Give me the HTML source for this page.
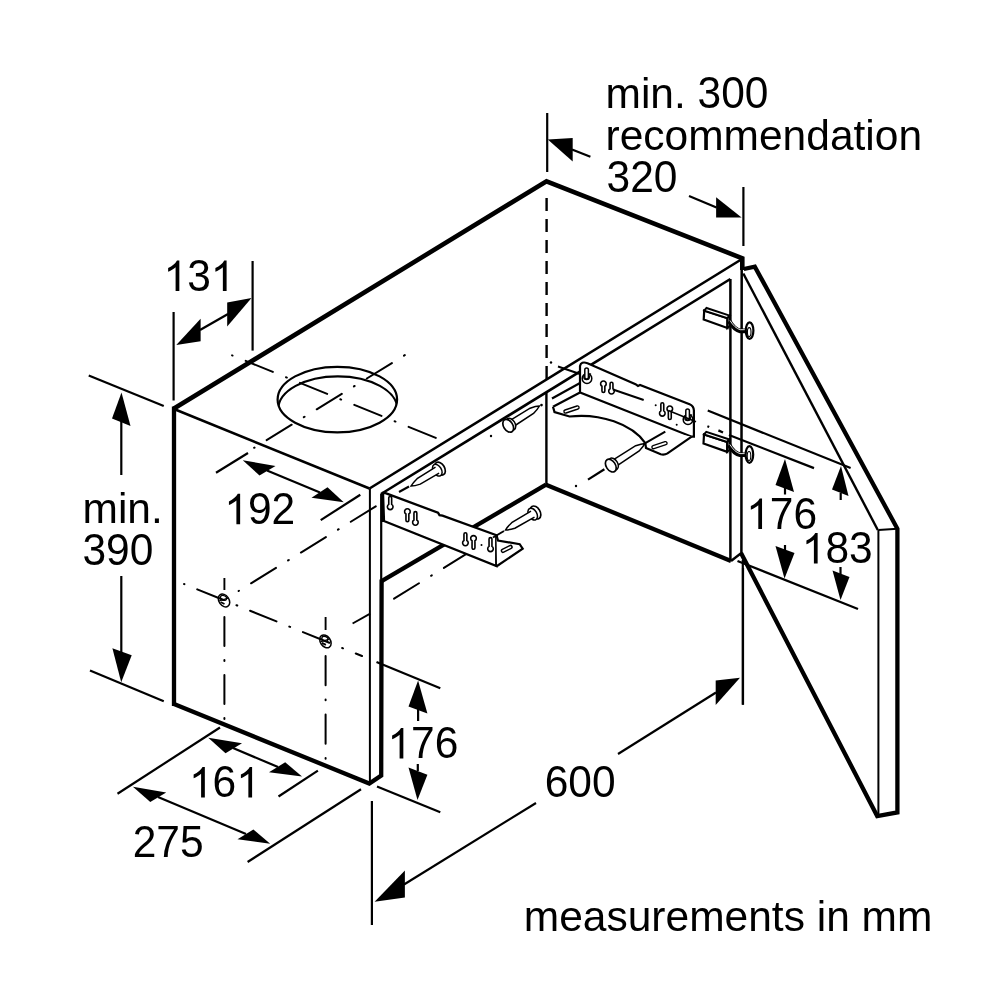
<!DOCTYPE html>
<html><head><meta charset="utf-8"><style>html,body{margin:0;padding:0;background:#fff}svg{display:block;will-change:transform}</style></head>
<body><svg width="1000" height="1000" viewBox="0 0 1000 1000" font-family="Liberation Sans, sans-serif" stroke="#000" stroke-linecap="butt">
<text stroke="none" fill="#000" x="605.5" y="108" font-size="42.5">min.</text>
<text stroke="none" fill="#000" x="697.60" y="108" font-size="42.5" transform="translate(0 108) scale(1 1.055) translate(0 -108)">3</text>
<text stroke="none" fill="#000" x="721.23" y="108" font-size="42.5" transform="translate(0 108) scale(1 1.055) translate(0 -108)">0</text>
<text stroke="none" fill="#000" x="744.86" y="108" font-size="42.5" transform="translate(0 108) scale(1 1.055) translate(0 -108)">0</text>
<text stroke="none" fill="#000" x="605.5" y="150" font-size="42.5">recommendation</text>
<text stroke="none" fill="#000" x="606.50" y="192" font-size="42.5" transform="translate(0 192) scale(1 1.055) translate(0 -192)">3</text>
<text stroke="none" fill="#000" x="630.13" y="192" font-size="42.5" transform="translate(0 192) scale(1 1.055) translate(0 -192)">2</text>
<text stroke="none" fill="#000" x="653.76" y="192" font-size="42.5" transform="translate(0 192) scale(1 1.055) translate(0 -192)">0</text>
<path d="M179.34,291.00 L175.60,291.00 L175.60,267.18 Q174.25,268.46 172.06,269.75 Q169.88,271.04 168.13,271.70 L168.13,268.09 Q171.28,266.60 173.65,264.48 Q176.01,262.36 177.00,260.39 L179.34,260.39Z" fill="#000" stroke="none"/>
<text stroke="none" fill="#000" x="187.13" y="291" font-size="42.5" transform="translate(0 291) scale(1 1.055) translate(0 -291)">3</text>
<path d="M226.60,291.00 L222.86,291.00 L222.86,267.18 Q221.51,268.46 219.32,269.75 Q217.13,271.04 215.39,271.70 L215.39,268.09 Q218.54,266.60 220.91,264.48 Q223.27,262.36 224.26,260.39 L226.60,260.39Z" fill="#000" stroke="none"/>
<path d="M240.14,524.30 L236.40,524.30 L236.40,500.48 Q235.05,501.76 232.86,503.05 Q230.68,504.34 228.93,505.00 L228.93,501.39 Q232.08,499.90 234.45,497.78 Q236.81,495.66 237.80,493.69 L240.14,493.69Z" fill="#000" stroke="none"/>
<text stroke="none" fill="#000" x="247.93" y="524.3" font-size="42.5" transform="translate(0 524.3) scale(1 1.055) translate(0 -524.3)">9</text>
<text stroke="none" fill="#000" x="271.56" y="524.3" font-size="42.5" transform="translate(0 524.3) scale(1 1.055) translate(0 -524.3)">2</text>
<text stroke="none" fill="#000" x="82.5" y="523" font-size="42.5">min.</text>
<text stroke="none" fill="#000" x="82.50" y="565.3" font-size="42.5" transform="translate(0 565.3) scale(1 1.055) translate(0 -565.3)">3</text>
<text stroke="none" fill="#000" x="106.13" y="565.3" font-size="42.5" transform="translate(0 565.3) scale(1 1.055) translate(0 -565.3)">9</text>
<text stroke="none" fill="#000" x="129.76" y="565.3" font-size="42.5" transform="translate(0 565.3) scale(1 1.055) translate(0 -565.3)">0</text>
<path d="M762.04,529.00 L758.30,529.00 L758.30,505.18 Q756.95,506.46 754.76,507.75 Q752.58,509.04 750.83,509.70 L750.83,506.09 Q753.98,504.60 756.35,502.48 Q758.71,500.36 759.70,498.39 L762.04,498.39Z" fill="#000" stroke="none"/>
<text stroke="none" fill="#000" x="769.83" y="529" font-size="42.5" transform="translate(0 529) scale(1 1.055) translate(0 -529)">7</text>
<text stroke="none" fill="#000" x="793.46" y="529" font-size="42.5" transform="translate(0 529) scale(1 1.055) translate(0 -529)">6</text>
<path d="M817.64,563.50 L813.90,563.50 L813.90,539.68 Q812.55,540.96 810.36,542.25 Q808.17,543.54 806.43,544.20 L806.43,540.59 Q809.58,539.10 811.95,536.98 Q814.31,534.86 815.30,532.89 L817.64,532.89Z" fill="#000" stroke="none"/>
<text stroke="none" fill="#000" x="825.43" y="563.5" font-size="42.5" transform="translate(0 563.5) scale(1 1.055) translate(0 -563.5)">8</text>
<text stroke="none" fill="#000" x="849.06" y="563.5" font-size="42.5" transform="translate(0 563.5) scale(1 1.055) translate(0 -563.5)">3</text>
<path d="M204.84,797.50 L201.10,797.50 L201.10,773.68 Q199.75,774.96 197.56,776.25 Q195.38,777.54 193.63,778.20 L193.63,774.59 Q196.78,773.10 199.15,770.98 Q201.51,768.86 202.50,766.89 L204.84,766.89Z" fill="#000" stroke="none"/>
<text stroke="none" fill="#000" x="212.63" y="797.5" font-size="42.5" transform="translate(0 797.5) scale(1 1.055) translate(0 -797.5)">6</text>
<path d="M252.10,797.50 L248.36,797.50 L248.36,773.68 Q247.01,774.96 244.82,776.25 Q242.63,777.54 240.89,778.20 L240.89,774.59 Q244.04,773.10 246.41,770.98 Q248.77,768.86 249.76,766.89 L252.10,766.89Z" fill="#000" stroke="none"/>
<text stroke="none" fill="#000" x="132.70" y="857.5" font-size="42.5" transform="translate(0 857.5) scale(1 1.055) translate(0 -857.5)">2</text>
<text stroke="none" fill="#000" x="156.33" y="857.5" font-size="42.5" transform="translate(0 857.5) scale(1 1.055) translate(0 -857.5)">7</text>
<text stroke="none" fill="#000" x="179.96" y="857.5" font-size="42.5" transform="translate(0 857.5) scale(1 1.055) translate(0 -857.5)">5</text>
<path d="M403.34,758.50 L399.60,758.50 L399.60,734.68 Q398.25,735.96 396.06,737.25 Q393.88,738.54 392.13,739.20 L392.13,735.59 Q395.28,734.10 397.65,731.98 Q400.01,729.86 401.00,727.89 L403.34,727.89Z" fill="#000" stroke="none"/>
<text stroke="none" fill="#000" x="411.13" y="758.5" font-size="42.5" transform="translate(0 758.5) scale(1 1.055) translate(0 -758.5)">7</text>
<text stroke="none" fill="#000" x="434.76" y="758.5" font-size="42.5" transform="translate(0 758.5) scale(1 1.055) translate(0 -758.5)">6</text>
<text stroke="none" fill="#000" x="544.70" y="796.8" font-size="42.5" transform="translate(0 796.8) scale(1 1.055) translate(0 -796.8)">6</text>
<text stroke="none" fill="#000" x="568.33" y="796.8" font-size="42.5" transform="translate(0 796.8) scale(1 1.055) translate(0 -796.8)">0</text>
<text stroke="none" fill="#000" x="591.96" y="796.8" font-size="42.5" transform="translate(0 796.8) scale(1 1.055) translate(0 -796.8)">0</text>
<text stroke="none" fill="#000" x="523.8" y="931" font-size="42.5">measurements in mm</text>
<line x1="547.2" y1="113" x2="547.2" y2="172" stroke-width="2.2" />
<line x1="743.4" y1="187" x2="743.4" y2="246" stroke-width="2.2" />
<path d="M547.8,139.5 L572.7,138 L572.7,161.4Z" fill="#000" stroke="none"/>
<path d="M741.6,217.6 L716.1,197.3 L716.1,217.6Z" fill="#000" stroke="none"/>
<line x1="572" y1="149.4" x2="590.4" y2="156.7" stroke-width="2.2" />
<line x1="689" y1="196" x2="716.5" y2="207.4" stroke-width="2.2" />
<line x1="173.6" y1="312" x2="173.6" y2="400.5" stroke-width="2.2" />
<line x1="252.6" y1="261" x2="252.6" y2="350.6" stroke-width="2.2" />
<path d="M176.3,345.1 L200.6,318.8 L200.6,341.3Z" fill="#000" stroke="none"/>
<path d="M251.5,298.1 L227.2,302.6 L227.2,326.5Z" fill="#000" stroke="none"/>
<line x1="200" y1="330" x2="228" y2="314" stroke-width="2.2" />
<line x1="88.75" y1="375.5" x2="163.75" y2="406" stroke-width="2.2" />
<line x1="90" y1="670.6" x2="163.75" y2="701.25" stroke-width="2.2" />
<path d="M121.5,392.5 L112,418.5 L130.5,426Z" fill="#000" stroke="none"/>
<path d="M121.2,682.2 L112.4,648.3 L131.7,655.3Z" fill="#000" stroke="none"/>
<line x1="121.3" y1="420" x2="121.3" y2="475" stroke-width="2.2" />
<line x1="121.3" y1="576" x2="121.3" y2="653" stroke-width="2.2" />
<line x1="216" y1="472.8" x2="248" y2="453" stroke-width="2.2" />
<line x1="320.7" y1="520.1" x2="360.3" y2="494.8" stroke-width="2.2" />
<path d="M242.75,460.25 L259.5,475.5 L275.5,466Z" fill="#000" stroke="none"/>
<path d="M343.75,502.25 L311.5,497.75 L327.5,487.25Z" fill="#000" stroke="none"/>
<line x1="267" y1="470.5" x2="320" y2="492.5" stroke-width="2.2" />
<line x1="707.75" y1="410.6" x2="850.6" y2="468.1" stroke-width="2.2" />
<line x1="729" y1="435" x2="814" y2="468.1" stroke-width="2.2" />
<line x1="737.5" y1="561" x2="858" y2="609" stroke-width="2.2" />
<path d="M785,459 L775.5,485 L794,492Z" fill="#000" stroke="none"/>
<path d="M784.5,578.5 L775.5,546 L794.5,553Z" fill="#000" stroke="none"/>
<line x1="785" y1="488" x2="785" y2="494.5" stroke-width="2.2" />
<line x1="785" y1="545" x2="785" y2="550" stroke-width="2.2" />
<path d="M841,466 L832,489.5 L848.5,496Z" fill="#000" stroke="none"/>
<path d="M840.5,600 L832.5,570.5 L849.5,577Z" fill="#000" stroke="none"/>
<line x1="840.7" y1="493" x2="840.7" y2="500" stroke-width="2.2" />
<line x1="840.5" y1="567" x2="840.5" y2="574" stroke-width="2.2" />
<line x1="117.5" y1="793.75" x2="220" y2="727.5" stroke-width="2.2" />
<line x1="278.5" y1="796.5" x2="317.9" y2="770.7" stroke-width="2.2" />
<path d="M208.25,737.75 L225.5,753.25 L242,743.25Z" fill="#000" stroke="none"/>
<path d="M302,776.4 L269,772.2 L285.2,762.3Z" fill="#000" stroke="none"/>
<line x1="233" y1="748" x2="278" y2="767" stroke-width="2.2" />
<line x1="247.6" y1="862" x2="361" y2="789.3" stroke-width="2.2" />
<path d="M132.9,786.7 L150.3,802 L166.2,792.4Z" fill="#000" stroke="none"/>
<path d="M270.2,843.8 L237.5,839.3 L253.4,829.4Z" fill="#000" stroke="none"/>
<line x1="158" y1="797" x2="246" y2="834" stroke-width="2.2" />
<line x1="376.5" y1="661.9" x2="440.3" y2="688.3" stroke-width="2.2" />
<line x1="377" y1="786.4" x2="440.3" y2="812.2" stroke-width="2.2" />
<path d="M418.1,680.4 L408.5,706.5 L427.4,713.4Z" fill="#000" stroke="none"/>
<path d="M417.5,799.9 L408.5,767.5 L427.4,774.7Z" fill="#000" stroke="none"/>
<line x1="418.1" y1="708" x2="418.1" y2="721" stroke-width="2.2" />
<line x1="417.8" y1="764" x2="417.8" y2="771" stroke-width="2.2" />
<line x1="371.9" y1="801" x2="371.9" y2="925" stroke-width="2.2" />
<line x1="742.8" y1="560" x2="742.8" y2="704.7" stroke-width="2.2" />
<path d="M374.6,901.7 L404.9,870.5 L404.9,897.5Z" fill="#000" stroke="none"/>
<path d="M740,677.7 L715.7,680.4 L715.7,705Z" fill="#000" stroke="none"/>
<line x1="404" y1="884.5" x2="536" y2="803" stroke-width="2.2" />
<line x1="618" y1="754" x2="716" y2="692.5" stroke-width="2.2" />
<path d="M174,408.5 L546.5,181.3 L742.3,258.3 L742.3,270" stroke-width="4.6" fill="none" />
<line x1="174" y1="406.5" x2="174" y2="706" stroke-width="4.3" />
<path d="M174,704 L369.3,783.5 L381.2,775.6 L381.6,579.5" stroke-width="4.3" fill="none" />
<line x1="174" y1="409" x2="369.5" y2="488.5" stroke-width="2.5" />
<line x1="369.5" y1="488.5" x2="742" y2="259" stroke-width="2.6" />
<line x1="369.9" y1="488.5" x2="369.9" y2="783.5" stroke-width="2.0" />
<line x1="381" y1="494" x2="730.4" y2="279" stroke-width="2.6" />
<line x1="381.2" y1="494" x2="381.2" y2="581" stroke-width="2.2" />
<line x1="382" y1="580.8" x2="546" y2="484.7" stroke-width="4.3" />
<line x1="546.4" y1="392" x2="546.4" y2="486" stroke-width="2.4" />
<line x1="546" y1="484.7" x2="731" y2="561" stroke-width="4.3" />
<path d="M731,561 L741.4,553 L741.7,266" stroke-width="2.5" fill="none" />
<line x1="730.4" y1="279" x2="730.4" y2="561" stroke-width="2.5" />
<line x1="546.6" y1="198" x2="546.6" y2="380" stroke-width="2.4" stroke-dasharray="13 8"/>
<line x1="552" y1="398.5" x2="580" y2="383" stroke-width="2.2" />
<path d="M743.8,269 L754.8,266.6 L897.4,528.7 L897.4,812.4 L877.2,816 L741,553" stroke-width="4.3" fill="none" />
<line x1="743.3" y1="273.5" x2="877.8" y2="530" stroke-width="2.4" />
<line x1="878.4" y1="530" x2="878.4" y2="814" stroke-width="2.0" />
<line x1="878.4" y1="530" x2="897.6" y2="528.7" stroke-width="2.0" />
<line x1="743" y1="568" x2="743" y2="704.7" stroke-width="2.2" />
<clipPath id="hc"><ellipse cx="337.35" cy="399.6" rx="59.75" ry="32.8"/></clipPath>
<ellipse cx="337.35" cy="399.6" rx="59.75" ry="32.8" stroke-width="2.2" fill="none"/>
<ellipse cx="337.8" cy="409" rx="59.5" ry="32.7" stroke-width="2.2" fill="none" clip-path="url(#hc)"/>
<line x1="232.1" y1="355.4" x2="436" y2="438" stroke-width="2.0" stroke-linecap="round" stroke-dasharray="29.32 14.19 0.9 14.19" stroke-dashoffset="43.96"/>
<line x1="254.1" y1="447.8" x2="405" y2="355" stroke-width="2.0" stroke-linecap="round" stroke-dasharray="29.43 14.24 0.9 14.24" stroke-dashoffset="44.11"/>
<ellipse cx="224" cy="600.5" rx="5.0" ry="7.0" transform="rotate(-35 224 600.5)" stroke-width="1.5" fill="none"/>
<ellipse cx="223.5" cy="597.9" rx="3.2" ry="2.3" transform="rotate(20 223.5 597.9)" stroke-width="1.3" fill="none"/>
<line x1="219" y1="601.0" x2="228" y2="598.1" stroke-width="1.2" />
<line x1="220.5" y1="602.0" x2="224.5" y2="604.0" stroke-width="1.8" />
<ellipse cx="325.4" cy="641.4" rx="5.0" ry="7.0" transform="rotate(-35 325.4 641.4)" stroke-width="1.5" fill="none"/>
<ellipse cx="324.9" cy="638.8" rx="3.2" ry="2.3" transform="rotate(20 324.9 638.8)" stroke-width="1.3" fill="none"/>
<line x1="320.4" y1="641.9" x2="329.4" y2="639.0" stroke-width="1.2" />
<line x1="321.9" y1="642.9" x2="325.9" y2="644.9" stroke-width="1.8" />
<line x1="184" y1="584" x2="362" y2="656" stroke-width="2.0" stroke-linecap="round" stroke-dasharray="28.47 13.82 0.9 13.82" stroke-dashoffset="42.73"/>
<line x1="224.4" y1="578" x2="224.4" y2="590" stroke-width="1.9" />
<line x1="224.4" y1="616" x2="224.4" y2="722" stroke-width="2.0" stroke-linecap="round" stroke-dasharray="29.00 14.05 0.9 14.05" stroke-dashoffset="-1.00"/>
<line x1="325.6" y1="617" x2="325.6" y2="630" stroke-width="1.9" />
<line x1="325.6" y1="655" x2="325.6" y2="761" stroke-width="2.0" stroke-linecap="round" stroke-dasharray="29.27 14.17 0.9 14.17" stroke-dashoffset="-1.00"/>
<line x1="238.6" y1="591" x2="399" y2="492" stroke-width="2.0" stroke-linecap="round" stroke-dasharray="29.32 14.19 0.9 14.19" stroke-dashoffset="43.96"/>
<line x1="352.6" y1="623.5" x2="370.2" y2="613.6" stroke-width="1.9" />
<line x1="393.2" y1="599.2" x2="493" y2="537.5" stroke-width="2.0" stroke-linecap="round" stroke-dasharray="29.32 14.19 0.9 14.19" stroke-dashoffset="-1.00"/>
<path d="M385.5,493.2 L438,512.7 L439.5,515.2 L442.5,515.7 L496.5,535.2 L496.5,566 L384,521 L383,493Z" stroke-width="2.3" fill="#fff" />
<line x1="496.5" y1="535.2" x2="496.5" y2="566.5" stroke-width="2.6" />
<path d="M496.5,535.2 L498,540.5 L519.7,544.2 L522.7,548.7 L497,566" stroke-width="2.2" fill="#fff" />
<line x1="382.4" y1="493" x2="382.4" y2="522" stroke-width="3.2" />
<path d="M388.75,497.85 A1.45,1.45 0 0 1 391.65,497.85 L391.65,504.40 A2.8,2.8 0 1 1 388.75,504.40 Z" stroke-width="1.6" fill="#fff"/>
<path d="M408.85,520.15 A1.45,1.45 0 0 1 405.95,520.15 L405.95,514.00 A2.8,2.8 0 1 1 408.85,514.00 Z" stroke-width="1.6" fill="#fff"/>
<path d="M413.95,513.05 A1.45,1.45 0 0 1 416.85,513.05 L416.85,520.00 A2.8,2.8 0 1 1 413.95,520.00 Z" stroke-width="1.6" fill="#fff"/>
<path d="M463.95,534.15 A1.45,1.45 0 0 1 466.85,534.15 L466.85,540.50 A2.8,2.8 0 1 1 463.95,540.50 Z" stroke-width="1.6" fill="#fff"/>
<path d="M474.95,547.85 A1.45,1.45 0 0 1 472.05,547.85 L472.05,540.80 A2.8,2.8 0 1 1 474.95,540.80 Z" stroke-width="1.6" fill="#fff"/>
<path d="M489.05,539.05 A1.45,1.45 0 0 1 491.95,539.05 L491.95,546.40 A2.8,2.8 0 1 1 489.05,546.40 Z" stroke-width="1.6" fill="#fff"/>
<circle cx="481.5" cy="545" r="1" fill="#000" stroke="none"/>
<path d="M503,550.8 L510.5,547" stroke-width="4.6" stroke-linecap="round"/><path d="M503,550.8 L510.5,547" stroke-width="1.6" stroke="#fff" stroke-linecap="round"/>
<path d="M553,406.7 L580,392.5 L691.7,436.7 L693.9,436.7 L693.9,410.5 Q693.7,406 689.6,404.3 L640,385 L638,386 L635.5,384.2 L587.5,363.2 Q581,361 580,366 L580,392.5" stroke-width="2.2" fill="#fff" />
<path d="M553,406.7 L554.5,412 L569.5,416.5 C600,413 632,424 645.3,443.1 L646,448 L660.7,454.3 Q664.5,455.2 667.5,453.4 L691.7,436.7" stroke-width="2.2" fill="#fff" />
<line x1="645.3" y1="443.1" x2="665.3" y2="431.6" stroke-width="2.1" />
<path d="M604.85,390.95 A1.45,1.45 0 0 1 601.95,390.95 L601.95,386.20 A2.8,2.8 0 1 1 604.85,386.20 Z" stroke-width="1.6" fill="#fff"/>
<path d="M610.05,383.65 A1.45,1.45 0 0 1 612.95,383.65 L612.95,388.80 A2.8,2.8 0 1 1 610.05,388.80 Z" stroke-width="1.6" fill="#fff"/>
<path d="M660.85,404.15 A1.45,1.45 0 0 1 663.75,404.15 L663.75,410.90 A2.8,2.8 0 1 1 660.85,410.90 Z" stroke-width="1.6" fill="#fff"/>
<path d="M671.25,418.05 A1.45,1.45 0 0 1 668.35,418.05 L668.35,411.20 A2.8,2.8 0 1 1 671.25,411.20 Z" stroke-width="1.6" fill="#fff"/>
<path d="M565.5,411.5 L577.5,407.5" stroke-width="4.5" stroke-linecap="round"/><path d="M565.5,411.5 L577.5,407.5" stroke-width="1.8" stroke="#fff" stroke-linecap="round"/>
<path d="M653.5,447.2 L665.5,443.2" stroke-width="4.5" stroke-linecap="round"/><path d="M653.5,447.2 L665.5,443.2" stroke-width="1.8" stroke="#fff" stroke-linecap="round"/>
<ellipse cx="587.0" cy="378.5" rx="4.8" ry="5" stroke-width="1.5" fill="#fff"/>
<ellipse cx="586.6" cy="377.0" rx="2.8" ry="2.6" stroke-width="1.3" fill="none"/>
<rect x="584.8000000000001" y="368.0" width="3.6" height="11" rx="1.8" stroke-width="1.5" fill="#fff"/>
<line x1="588.4" y1="374.0" x2="591.1" y2="374.0" stroke-width="1.4" />
<ellipse cx="688.0" cy="419.5" rx="4.8" ry="5" stroke-width="1.5" fill="#fff"/>
<ellipse cx="687.6" cy="418.0" rx="2.8" ry="2.6" stroke-width="1.3" fill="none"/>
<rect x="685.8000000000001" y="409.0" width="3.6" height="11" rx="1.8" stroke-width="1.5" fill="#fff"/>
<line x1="689.4" y1="415.0" x2="692.1" y2="415.0" stroke-width="1.4" />
<line x1="613" y1="389.5" x2="643.7" y2="400" stroke-width="2.0" />
<line x1="668.4" y1="410.5" x2="696" y2="421.7" stroke-width="1.6" />
<circle cx="655.7" cy="405.2" r="1" fill="#000" stroke="none"/><circle cx="676.7" cy="424.7" r="1" fill="#000" stroke="none"/>
<line x1="399" y1="492" x2="409" y2="486.5" stroke-width="2.0" />
<ellipse cx="440.0" cy="468.6" rx="7.0" ry="4.6" transform="rotate(-121.0 440.0 468.6)" stroke-width="1.7" fill="#fff"/>
<ellipse cx="437.3" cy="470.2" rx="6.4" ry="4.1" transform="rotate(-121.0 437.3 470.2)" stroke-width="1.5" fill="#fff"/>
<path d="M435.5,467.2 L417.1,478.7 Q412.7,483.0 411.0,486.0 Q414.5,486.0 420.3,484.1 L439.1,473.2" stroke-width="1.5" fill="#fff"/>
<line x1="493" y1="537.5" x2="504" y2="531" stroke-width="2.0" />
<ellipse cx="535.5" cy="512.5" rx="7.0" ry="4.6" transform="rotate(-120.3 535.5 512.5)" stroke-width="1.7" fill="#fff"/>
<ellipse cx="532.7" cy="514.1" rx="6.4" ry="4.1" transform="rotate(-120.3 532.7 514.1)" stroke-width="1.5" fill="#fff"/>
<path d="M531.0,511.1 L511.7,522.7 Q507.2,527.0 505.5,530.0 Q509.0,530.0 514.9,528.2 L534.5,517.1" stroke-width="1.5" fill="#fff"/>
<line x1="588" y1="479.6" x2="604.4" y2="469.2" stroke-width="2.2" />
<path d="M615.4,466.8 L639.2,450.9 Q643.4,446.5 645.0,443.4 Q641.5,443.6 635.7,445.7 L611.6,460.9" stroke-width="1.5" fill="#fff"/>
<ellipse cx="613.5" cy="463.9" rx="6.4" ry="4.1" transform="rotate(57.0 613.5 463.9)" stroke-width="1.5" fill="#fff"/>
<ellipse cx="610.8" cy="465.6" rx="7.0" ry="4.6" transform="rotate(57.0 610.8 465.6)" stroke-width="1.7" fill="#fff"/>
<path d="M512.8,427.0 L533.5,413.5 Q537.8,409.1 539.4,406.0 Q535.9,406.1 530.1,408.2 L509.0,421.1" stroke-width="1.5" fill="#fff"/>
<ellipse cx="510.9" cy="424.1" rx="6.4" ry="4.1" transform="rotate(57.6 510.9 424.1)" stroke-width="1.5" fill="#fff"/>
<ellipse cx="508.2" cy="425.8" rx="7.0" ry="4.6" transform="rotate(57.6 508.2 425.8)" stroke-width="1.7" fill="#fff"/>
<circle cx="541.5" cy="405.1" r="1.3" fill="#000" stroke="none"/>
<circle cx="491" cy="436" r="1.2" fill="#000" stroke="none"/><circle cx="551" cy="362.5" r="1.2" fill="#000" stroke="none"/><circle cx="576" cy="486" r="1.2" fill="#000" stroke="none"/>
<path d="M704.2,310.6 L727.4,318.1 L727.4,328.0 L703.7,319.6Z" stroke-width="2.2" fill="#fff" />
<path d="M704.2,310.6 L706.5,308.0 L729.7,315.6 L727.4,318.1Z" stroke-width="2.0" fill="#fff" />
<path d="M727.4,318.1 L729.7,315.6 L729.7,326.0 L727.4,328.0Z" stroke-width="2.0" fill="#fff" />
<path d="M729.2,321.1 Q734.2,329.6 740.2,330.9 L749.2,330.9" stroke-width="4.6" fill="none"/>
<path d="M730.0,320.5 Q734.8000000000001,328.20000000000005 740.2,329.7 L749.2,329.7" stroke-width="0.9" stroke="#fff" fill="none"/>
<ellipse cx="749.6" cy="330.6" rx="3.8" ry="8.3" stroke-width="2.2" fill="#fff"/>
<ellipse cx="749.2" cy="332.1" rx="1.8" ry="4.5" stroke-width="1.1" fill="none"/>
<path d="M704,434.5 L727.2,442.0 L727.2,451.9 L703.5,443.5Z" stroke-width="2.2" fill="#fff" />
<path d="M704,434.5 L706.3,431.9 L729.5,439.5 L727.2,442.0Z" stroke-width="2.0" fill="#fff" />
<path d="M727.2,442.0 L729.5,439.5 L729.5,449.9 L727.2,451.9Z" stroke-width="2.0" fill="#fff" />
<path d="M729,445.0 Q734,453.5 740,454.8 L749,454.8" stroke-width="4.6" fill="none"/>
<path d="M729.8,444.4 Q734.6,452.1 740,453.6 L749,453.6" stroke-width="0.9" stroke="#fff" fill="none"/>
<ellipse cx="749.4" cy="454.5" rx="3.8" ry="8.3" stroke-width="2.2" fill="#fff"/>
<ellipse cx="749.0" cy="456.0" rx="1.8" ry="4.5" stroke-width="1.1" fill="none"/>
<line x1="558" y1="366.5" x2="580" y2="374" stroke-width="1.9" />
<line x1="707.4" y1="426.3" x2="709.2" y2="427" stroke-width="2.3" />
<line x1="718.4" y1="430.4" x2="723" y2="432.5" stroke-width="2.3" />
</svg></body></html>
